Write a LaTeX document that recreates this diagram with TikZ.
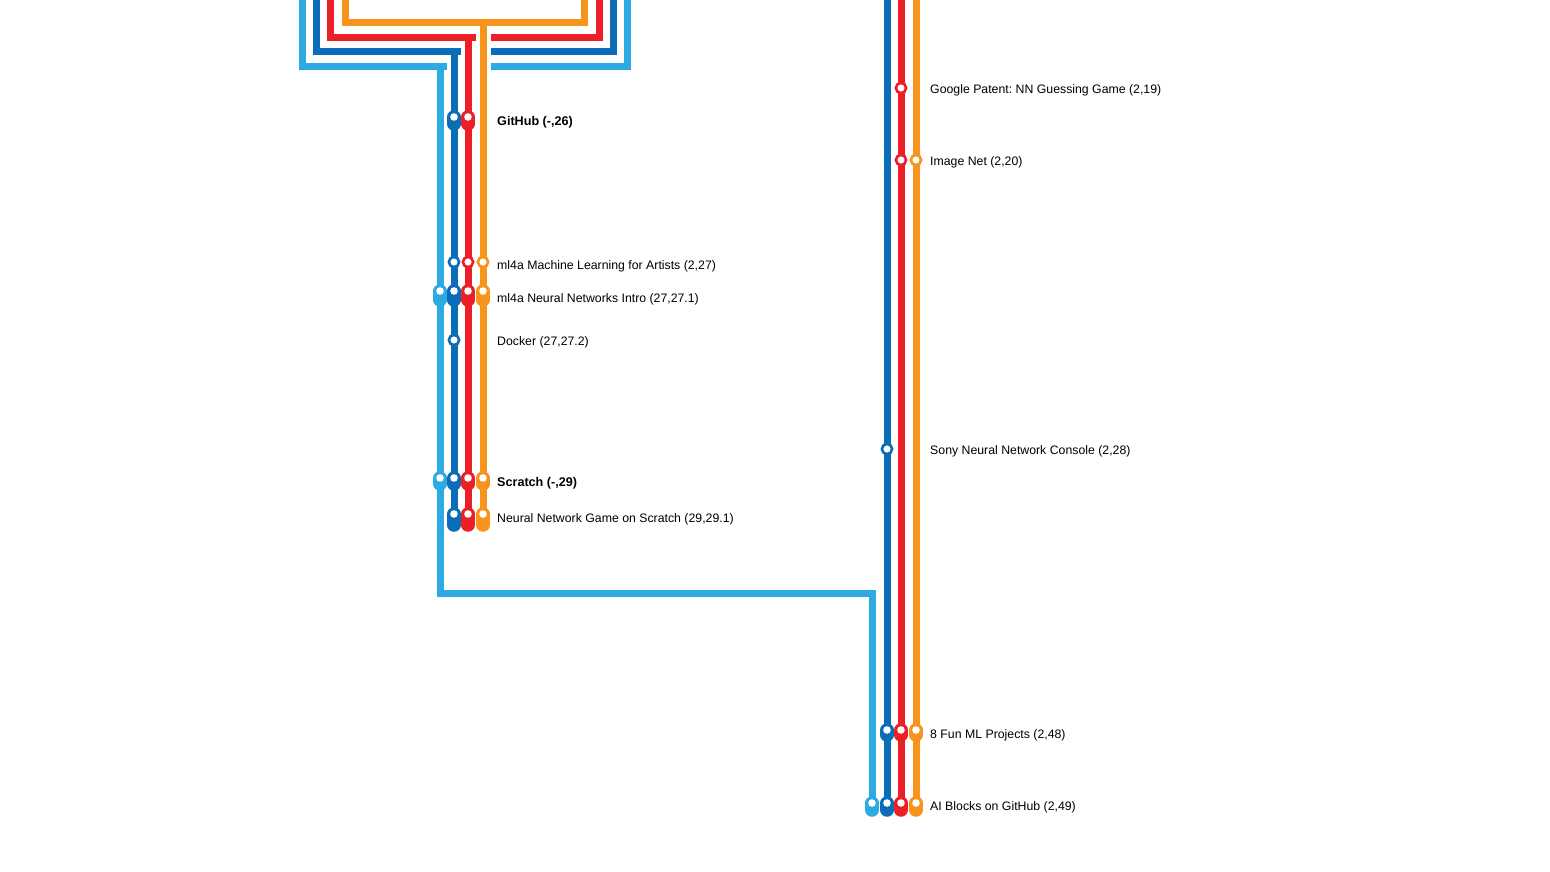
\documentclass[tikz,border=0pt]{standalone}
\usepackage{fontspec}
\setmainfont{Liberation Sans}
\frenchspacing
\definecolor{lineLight}{HTML}{2DAAE1}
\definecolor{lineDark}{HTML}{0B6DB7}
\definecolor{lineRed}{HTML}{EC1F27}
\definecolor{lineOrange}{HTML}{F7941E}
\newcommand\pillstop[4]{%
  \draw[#1, line width=13.5pt, line cap=round] (#2,#3) -- ++(0,#4);
  \fill[white] (#2,#3) circle[radius=3.8pt];}
\begin{document}
\begin{tikzpicture}[x=1pt, y=-1pt,
		track/.style={line width=7pt},
		casing/.style={line width=15pt, white},
		ring/.style={circle, draw=#1, line width=2.6pt, fill=white, minimum size=10.2pt, inner sep=0pt},
		stoplabel/.style={anchor=west, inner sep=0pt, font=\fontsize{12.3}{14}\selectfont},
		boldlabel/.style={stoplabel, font=\fontsize{12.6}{14}\selectfont\bfseries}
		]
	\useasboundingbox (0,0) rectangle (1550,872);
	\clip (0,0) rectangle (1550,872);
	\coordinate (lbTop) at (302,-10);
	\coordinate (lbTopR) at (627,-10);
	\coordinate (dbTop) at (316,-10);
	\coordinate (dbTopR) at (613,-10);
	\coordinate (rdTop) at (330,-10);
	\coordinate (rdTopR) at (599,-10);
	\coordinate (orTop) at (345,-10);
	\coordinate (orTopR) at (584,-10);
	\coordinate (lbJoin) at (440,67);
	\coordinate (dbJoin) at (454,52);
	\coordinate (rdJoin) at (468,38);
	\coordinate (orJoin) at (483,23);
	\coordinate (lbBend) at (440,593);
	\coordinate (lbBendR) at (872,593);
	\coordinate (lbEnd) at (872,803);
	\coordinate (dbEnd) at (454,514);
	\coordinate (rdEnd) at (468,514);
	\coordinate (orEnd) at (483,514);
	\coordinate (dbTop2) at (887,-10);
	\coordinate (rdTop2) at (901,-10);
	\coordinate (orTop2) at (916,-10);
	\coordinate (dbEnd2) at (887,803);
	\coordinate (rdEnd2) at (901,803);
	\coordinate (orEnd2) at (916,803);

	\draw[track, lineLight] (lbTop) |- (lbTopR |- lbJoin) -- (lbTopR);
	\draw[track, lineDark] (dbTop) |- (dbTopR |- dbJoin) -- (dbTopR);
	\draw[track, lineRed] (rdTop) |- (rdTopR |- rdJoin) -- (rdTopR);
	\draw[track, lineOrange] (orTop) |- (orTopR |- orJoin) -- (orTopR);

	\draw[casing] ([yshift=-5pt]dbJoin) -- ++(0,30);
	\draw[casing] ([yshift=-5pt]rdJoin) -- ++(0,45);
	\draw[casing] ([yshift=-5pt]orJoin) -- ++(0,60);

	\draw[track, lineLight] (lbJoin) -- (lbBend) -- (lbBendR) -- (lbEnd);
	\draw[track, lineDark] (dbJoin) -- (dbEnd);
	\draw[track, lineRed] (rdJoin) -- (rdEnd);
	\draw[track, lineOrange] (orJoin) -- (orEnd);
	\draw[track, lineDark] (dbTop2) -- (dbEnd2);
	\draw[track, lineRed] (rdTop2) -- (rdEnd2);
	\draw[track, lineOrange] (orTop2) -- (orEnd2);

	\foreach \c/\x in {lineDark/454, lineRed/468} \pillstop{\c}{\x}{117}{7};
	\node[ring=lineDark] (mlaDark) at (454,262) {};
	\node[ring=lineRed] (mlaRed) at (468,262) {};
	\node[ring=lineOrange] (mlaOrange) at (483,262) {};
	\foreach \c/\x in {lineLight/440, lineDark/454, lineRed/468, lineOrange/483} \pillstop{\c}{\x}{291}{9};
	\node[ring=lineDark] (dockerDark) at (454,340) {};
	\foreach \c/\x in {lineLight/440, lineDark/454, lineRed/468, lineOrange/483} \pillstop{\c}{\x}{478}{6};
	\foreach \c/\x in {lineDark/454, lineRed/468, lineOrange/483} \pillstop{\c}{\x}{514}{11};
	\node[ring=lineRed] (patentRed) at (901,88) {};
	\node[ring=lineRed] (imagenetRed) at (901,160) {};
	\node[ring=lineOrange] (imagenetOrange) at (916,160) {};
	\node[ring=lineDark] (sonyDark) at (887,449) {};
	\foreach \c/\x in {lineDark/887, lineRed/901, lineOrange/916} \pillstop{\c}{\x}{730}{5};
	\foreach \c/\x in {lineLight/872, lineDark/887, lineRed/901, lineOrange/916} \pillstop{\c}{\x}{803}{7};

	\node[boldlabel] (github) at (497,122) {GitHub (-,26)};
	\node[stoplabel] (mlArtists) at (497,266) {ml4a Machine Learning for Artists (2,27)};
	\node[stoplabel] (mlIntro) at (497,299) {ml4a Neural Networks Intro (27,27.1)};
	\node[stoplabel] (docker) at (497,342) {Docker (27,27.2)};
	\node[boldlabel] (scratch) at (497,483) {Scratch (-,29)};
	\node[stoplabel] (nnGame) at (497,519) {Neural Network Game on Scratch (29,29.1)};
	\node[stoplabel] (patent) at (930,90) {Google Patent: NN Guessing Game (2,19)};
	\node[stoplabel] (imagenet) at (930,162) {Image Net (2,20)};
	\node[stoplabel] (sony) at (930,451) {Sony Neural Network Console (2,28)};
	\node[stoplabel] (funML) at (930,735) {8 Fun ML Projects (2,48)};
	\node[stoplabel] (aiBlocks) at (930,807) {AI Blocks on GitHub (2,49)};
\end{tikzpicture}
\end{document}
